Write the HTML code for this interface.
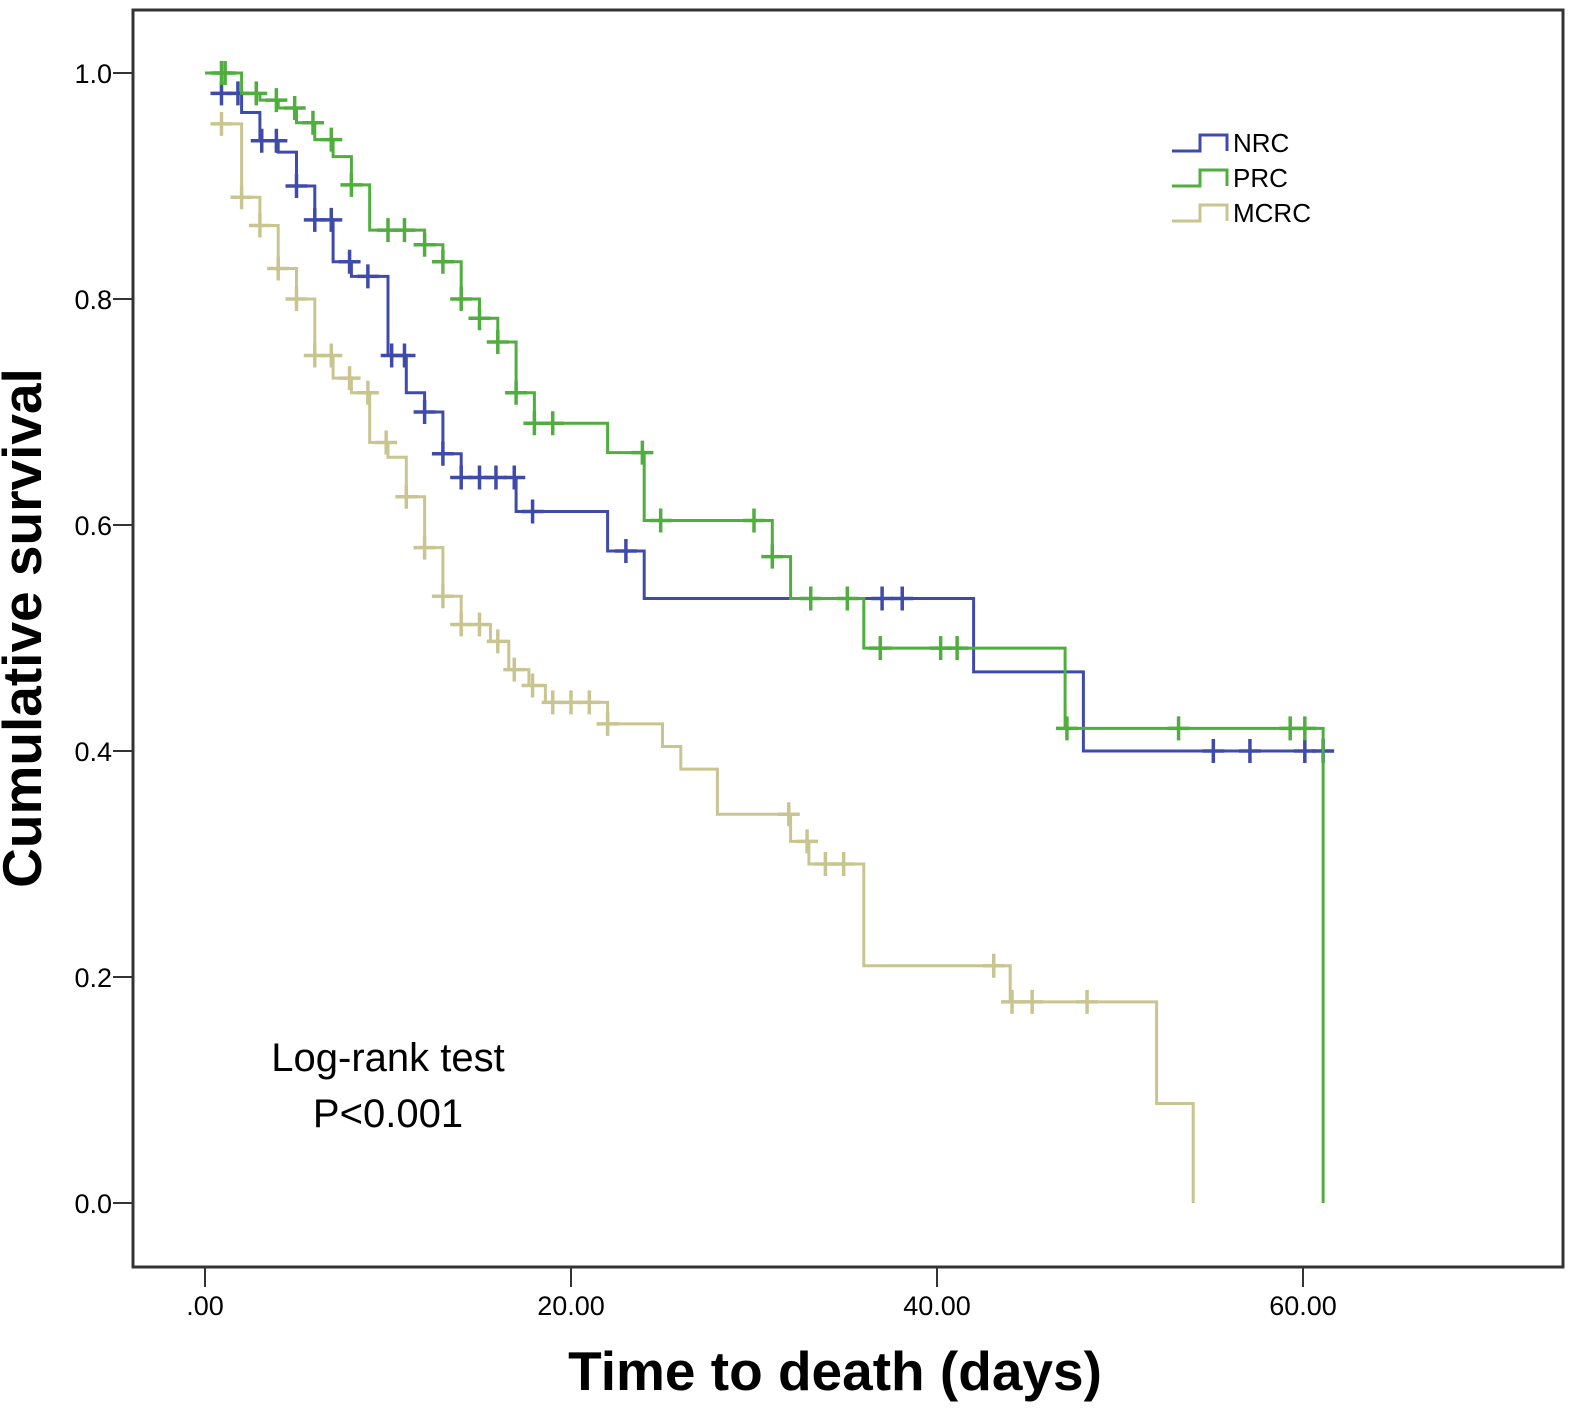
<!DOCTYPE html>
<html><head><meta charset="utf-8"><style>
html,body{margin:0;padding:0;background:#fff;}
svg{display:block;font-family:"Liberation Sans",Arial,sans-serif;}
</style></head><body>
<svg id="chart" width="1591" height="1424" viewBox="0 0 1591 1424">
<rect x="133" y="10" width="1430" height="1257" fill="#fff" stroke="#333" stroke-width="3"/>
<g id="axes"></g>
<g id="series"></g>
<text x="388" y="1071" font-size="40" text-anchor="middle">Log-rank test</text>
<text x="388" y="1127" font-size="40" text-anchor="middle">P&lt;0.001</text>
<text x="835" y="1390" font-size="55" font-weight="bold" text-anchor="middle">Time to death (days)</text>
<text transform="translate(41,628) rotate(-90)" font-size="55" font-weight="bold" text-anchor="middle">Cumulative survival</text>
<g id="legend"></g>
</svg>
<script>
const xTicks=[0,20,40,60];
const xTickLabels=[".00","20.00","40.00","60.00"];
const yTicks=[0,0.2,0.4,0.6,0.8,1.0];
const yTickLabels=["0.0","0.2","0.4","0.6","0.8","1.0"];
const seriesNames=["NRC","PRC","MCRC"];
const seriesColors=["#3f4bab","#4fae3e","#c9c590"];
const nrcTimes=[0.5,2,3,4,5,6,7,8,10,11,12,13,14,17,22,24,42,48];
const nrcSurv=[0.982,0.965,0.94,0.93,0.90,0.87,0.833,0.82,0.75,0.717,0.70,0.663,0.642,0.612,0.577,0.535,0.47,0.40];
const nrcEnd=61.5;
const nrcCensor=[0.9,1.8,3.1,3.9,5.0,6.0,6.9,7.9,8.9,10.2,10.9,12.0,13.0,14.0,15.0,15.9,16.9,17.9,23.0,37.0,38.1,55.1,57.1,60.1,61.1];
const prcTimes=[0,2,3,4,5,6,7,8,9,12,13,14,15,16,17,18,22,24,31,32,36,47,61.1];
const prcSurv=[1.0,0.982,0.976,0.969,0.956,0.941,0.926,0.901,0.861,0.848,0.833,0.80,0.783,0.762,0.717,0.69,0.664,0.604,0.572,0.535,0.491,0.42,0];
const prcEnd=61.1;
const prcCensor=[0.9,1.1,2.8,3.9,4.9,5.9,6.9,8.0,10.0,10.9,12.0,13.0,14.0,15.0,16.0,17.0,18.0,19.0,23.9,24.9,30.0,31.0,33.1,35.1,36.9,40.2,41.1,47.1,53.2,59.3,60.1];
const mcrcTimes=[0.5,2,3,4,5,6,7,8,9,10,11,12,13,14,15.6,16.6,17.7,18.6,22,25,26,28,32,33,36,44,52,54];
const mcrcSurv=[0.955,0.89,0.865,0.827,0.80,0.75,0.73,0.717,0.673,0.66,0.625,0.58,0.537,0.512,0.497,0.472,0.458,0.443,0.424,0.404,0.384,0.344,0.32,0.30,0.21,0.178,0.088,0];
const mcrcEnd=54;
const mcrcCensor=[0.9,2.0,3.0,4.0,5.0,6.0,6.9,7.9,8.9,9.9,11.0,12.0,13.0,14.0,15.0,16.0,16.9,17.9,19.0,20.0,21.0,22.0,31.9,32.9,33.9,34.9,43.1,44.1,45.2,48.2];

const X0=205,XS=18.3,Y0=1203,YS=1130;
const sx=t=>X0+t*XS, sy=s=>Y0-s*YS;
const NS="http://www.w3.org/2000/svg";
function mk(tag,attrs,parent){const e=document.createElementNS(NS,tag);for(const k in attrs)e.setAttribute(k,attrs[k]);parent.appendChild(e);return e;}
const axes=document.getElementById('axes');
xTicks.forEach((v,i)=>{
  const l=mk('line',{x1:sx(v),x2:sx(v),y1:1267,y2:1287,stroke:'#333','stroke-width':2},axes);
  
  
  const t=mk('text',{x:sx(v),y:1315,'font-size':27,'text-anchor':'middle'},axes);
  t.textContent=xTickLabels[i];
  
  
});
yTicks.forEach((v,i)=>{
  const l=mk('line',{x1:113,x2:133,y1:sy(v),y2:sy(v),stroke:'#333','stroke-width':2},axes);
  
  
  const t=mk('text',{x:112,y:sy(v)+10,'font-size':27,'text-anchor':'end'},axes);
  t.textContent=yTickLabels[i];
  
  
});
function survAt(times,surv,t){let s=surv[0];for(let i=0;i<times.length;i++){if(times[i]<=t+1e-9)s=surv[i];}return s;}
const sg=document.getElementById('series');
function draw(times,surv,end,censor,color,name,w){
  const g=mk('g',{},sg);
  
  
  let d='M'+sx(times[0])+','+sy(surv[0]);
  for(let i=1;i<times.length;i++){d+=' H'+sx(times[i])+' V'+sy(surv[i]);}
  if(end>times[times.length-1])d+=' H'+sx(end);
  const p=mk('path',{d:d,fill:'none',stroke:color,'stroke-width':w},g);
  
  
  censor.forEach(c=>{
    const s=survAt(times,surv,c);
    const m=mk('path',{d:`M${sx(c)-11},${sy(s)} h22 M${sx(c)},${sy(s)-12} v24`,stroke:color,'stroke-width':w+0.5,fill:'none'},g);
    
    
  });
}
draw(mcrcTimes,mcrcSurv,mcrcEnd,mcrcCensor,seriesColors[2],'mcrc',3);
draw(nrcTimes,nrcSurv,nrcEnd,nrcCensor,seriesColors[0],'nrc',3);
draw(prcTimes,prcSurv,prcEnd,prcCensor,seriesColors[1],'prc',3);
const lg=document.getElementById('legend');
seriesNames.forEach((n,i)=>{
  const yb=151+i*35, yt=yb-16;
  const g=mk('g',{},lg);
  
  
  mk('path',{d:`M1172,${yb} H1200 V${yt} H1227 V${yb}`,fill:'none',stroke:seriesColors[i],'stroke-width':3},g);
  const t=mk('text',{x:1233,y:yb+1,'font-size':26},g);
  t.textContent=n;
});
</script>
</body></html>
